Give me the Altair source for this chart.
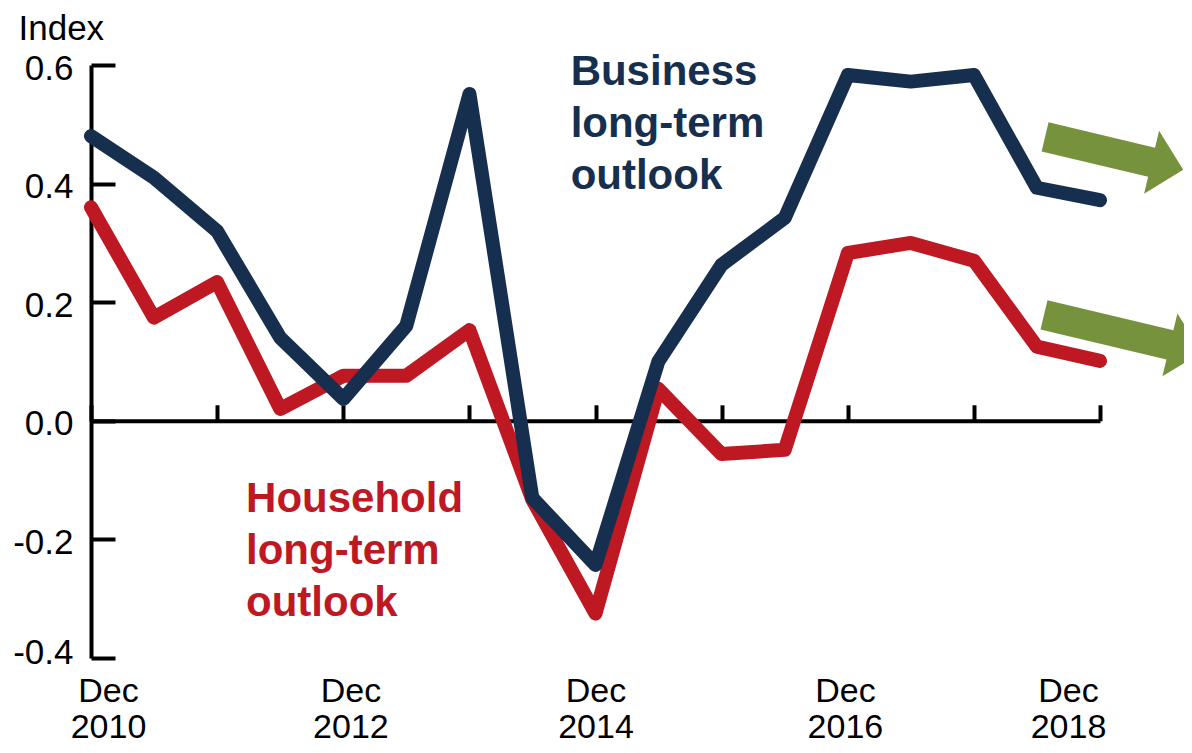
import altair as alt
import pandas as pd

# ---------------- data ----------------
periods = ["2010-12-01", "2011-06-01", "2011-12-01", "2012-06-01", "2012-12-01",
           "2013-06-01", "2013-12-01", "2014-06-01", "2014-12-01", "2015-06-01",
           "2015-12-01", "2016-06-01", "2016-12-01", "2017-06-01", "2017-12-01",
           "2018-06-01", "2018-12-01"]
business = [0.48, 0.41, 0.32, 0.14, 0.037, 0.16, 0.551, -0.13, -0.243, 0.10,
            0.263, 0.342, 0.583, 0.572, 0.583, 0.393, 0.372]
household = [0.36, 0.174, 0.234, 0.02, 0.076, 0.076, 0.153, -0.133, -0.325, 0.054,
             -0.056, -0.049, 0.283, 0.30, 0.27, 0.125, 0.101]

tick_years = [2010, 2011, 2012, 2013, 2014, 2015, 2016, 2017, 2018]
label_years = [2010, 2012, 2014, 2016, 2018]
y_ticks = [-0.4, -0.2, 0.0, 0.2, 0.4, 0.6]
y_domain = [-0.4, 0.6]

series_text = ["Business\nlong-term\noutlook", "Household\nlong-term\noutlook"]
text_dates = ["2014-09-20", "2012-02-23"]
text_values = [0.566, -0.154]

arrow_dates = ["2019-01-11", "2019-02-05"]
arrow_values = [0.451, 0.147]

# ---------------- styles ----------------
BLUE = "#172f4e"
RED = "#be1823"
GREEN = "#77923c"
FONT = "Liberation Sans"
W, H = 1009, 593

df = pd.DataFrame({"date": pd.to_datetime(periods), "business": business, "household": household})
txt_b = pd.DataFrame({"date": pd.to_datetime([text_dates[0]]), "value": [text_values[0]], "label": [series_text[0]]})
txt_h = pd.DataFrame({"date": pd.to_datetime([text_dates[1]]), "value": [text_values[1]], "label": [series_text[1]]})
arr_t = pd.DataFrame({"date": pd.to_datetime([arrow_dates[0]]), "value": [arrow_values[0]]})
arr_b = pd.DataFrame({"date": pd.to_datetime([arrow_dates[1]]), "value": [arrow_values[1]]})

xscale = alt.Scale(domain=[alt.DateTime(year=tick_years[0], month=12, date=1),
                           alt.DateTime(year=tick_years[-1], month=12, date=1)])
yscale = alt.Scale(domain=y_domain, nice=False, zero=False)

zero_pos = H * (y_domain[1] - 0) / (y_domain[1] - y_domain[0])

tick_x_axis = alt.Axis(orient="top", offset=-zero_pos,
                       values=[alt.DateTime(year=y, month=12, date=1) for y in tick_years],
                       labels=False, domain=True, domainColor="black", domainWidth=4,
                       ticks=True, tickColor="black", tickWidth=4, tickSize=16,
                       grid=False, title=None)
tick_y_axis = alt.Axis(orient="right", offset=-W, values=y_ticks, labels=False,
                       domain=True, domainColor="black", domainWidth=4,
                       ticks=True, tickColor="black", tickWidth=4, tickSize=24,
                       grid=False, title=None)
label_x_axis = alt.Axis(orient="bottom",
                        values=[alt.DateTime(year=y, month=12, date=1) for y in label_years],
                        domain=False, ticks=False, tickSize=0, grid=False, title=None,
                        labelExpr="[timeFormat(datum.value, '%b'), timeFormat(datum.value, '%Y')]",
                        labelFont=FONT, labelFontSize=34, labelColor="black",
                        labelPadding=16, labelLineHeight=36, labelFlush=False,
                        labelOverlap=False,
                        labelOffset={"condition": [
                            {"test": "year(datum.value) == 2010", "value": 17},
                            {"test": "year(datum.value) == 2012", "value": 7},
                            {"test": "year(datum.value) == 2016", "value": -3},
                            {"test": "year(datum.value) == 2018", "value": -32}],
                            "value": 0})
label_y_axis = alt.Axis(orient="left", values=y_ticks, domain=False, ticks=False, tickSize=0,
                        grid=False,
                        labelExpr="(datum.value < 0 ? '-' : '') + format(abs(datum.value), '.1f')",
                        labelFont=FONT, labelFontSize=35, labelColor="black", labelPadding=18,
                        labelOffset={"condition": {"test": "datum.value < -0.3", "value": -6},
                                     "value": 3},
                        title="Index", titleAngle=0, titleAlign="left", titleBaseline="alphabetic",
                        titleX=-73, titleY=-26, titleFont=FONT, titleFontSize=35,
                        titleFontWeight="normal", titleColor="black")

house_line = alt.Chart(df).mark_line(color=RED, strokeWidth=14, strokeCap="round", strokeJoin="round").encode(
    x=alt.X("date:T", scale=xscale, axis=tick_x_axis),
    y=alt.Y("household:Q", scale=yscale, axis=tick_y_axis),
)
bus_line = alt.Chart(df).mark_line(color=BLUE, strokeWidth=14, strokeCap="round", strokeJoin="round").encode(
    x=alt.X("date:T", scale=xscale, axis=label_x_axis),
    y=alt.Y("business:Q", scale=yscale, axis=label_y_axis),
)

def text_layer(d, color):
    return alt.Chart(d).mark_text(align="left", baseline="alphabetic", lineBreak="\n", lineHeight=52,
                                  font=FONT, fontSize=42, fontWeight="bold", color=color).encode(
        x=alt.X("date:T", scale=xscale, axis=None),
        y=alt.Y("value:Q", scale=yscale, axis=None),
        text="label:N",
    )

PATH_TOP = "M-1,-0.211L0.542,-0.211L0.542,-0.455L1,0L0.542,0.455L0.542,0.211L-1,0.211Z"
PATH_BOTTOM = "M-1,-0.185L0.598,-0.185L0.598,-0.399L1,0L0.598,0.399L0.598,0.185L-1,0.185Z"

def arrow_layer(d, path, size):
    return alt.Chart(d).mark_point(shape=path, size=size, angle=13.4, filled=True, fill=GREEN,
                                   opacity=1, strokeWidth=0).encode(
        x=alt.X("date:T", scale=xscale, axis=None),
        y=alt.Y("value:Q", scale=yscale, axis=None),
    )

chart = alt.layer(
    house_line,
    bus_line,
    text_layer(txt_b, BLUE),
    text_layer(txt_h, RED),
    arrow_layer(arr_t, PATH_TOP, 20164),
    arrow_layer(arr_b, PATH_BOTTOM, 26244),
).resolve_axis(x="independent", y="independent").properties(
    width=W, height=H,
    padding={"left": 83, "top": 57, "right": 84, "bottom": 87},
    autosize=alt.AutoSizeParams(type="none"),
    background="white",
).configure_view(strokeWidth=0)

chart.save("out.html", embed_options={"renderer": "svg", "actions": False})
